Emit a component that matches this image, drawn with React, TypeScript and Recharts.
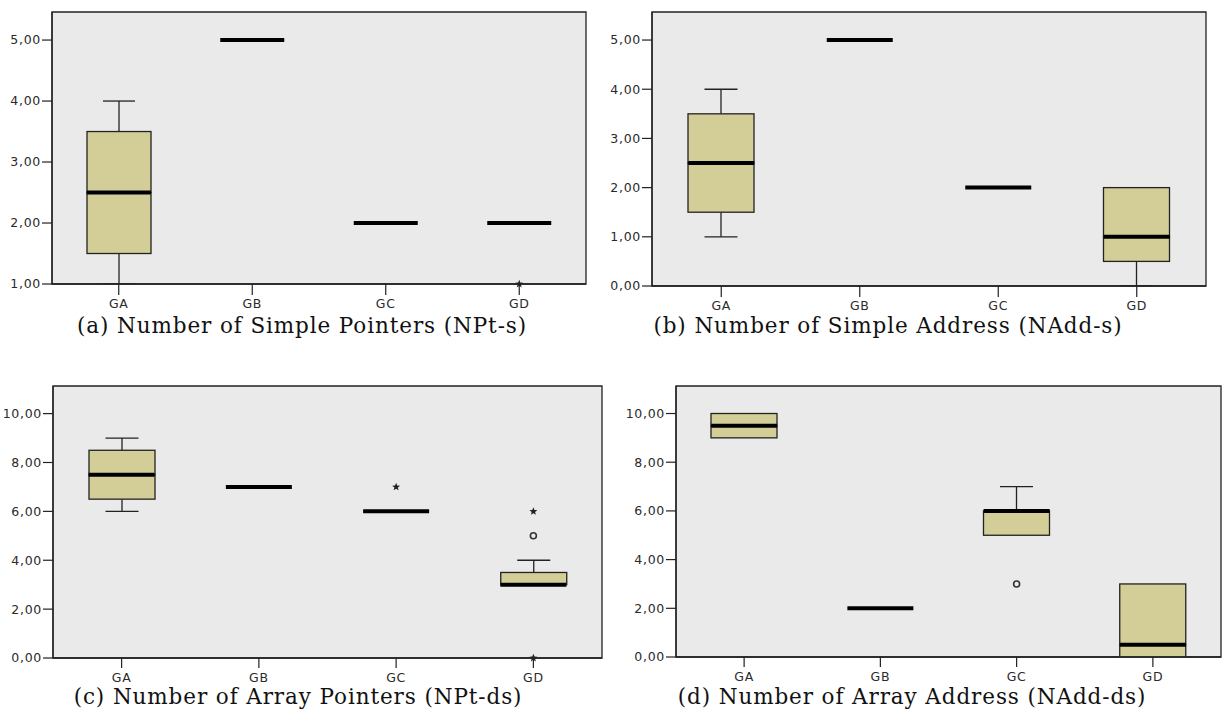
import { Bar, CartesianGrid, ComposedChart, ReferenceArea, Scatter, XAxis, YAxis } from "recharts";

const groups = ["GA", "GB", "GC", "GD"];

// [min, q1, median, q3, max] per group
const nptS = [
  [1, 1.5, 2.5, 3.5, 4],
  [5, 5, 5, 5, 5],
  [2, 2, 2, 2, 2],
  [2, 2, 2, 2, 2],
];
const nptSCircles = [null, null, null, null];
const nptSStars = [[], [], [], [1]];

const naddS = [
  [1, 1.5, 2.5, 3.5, 4],
  [5, 5, 5, 5, 5],
  [2, 2, 2, 2, 2],
  [0, 0.5, 1, 2, 2],
];
const naddSCircles = [null, null, null, null];
const naddSStars = [[], [], [], []];

const nptDs = [
  [6, 6.5, 7.5, 8.5, 9],
  [7, 7, 7, 7, 7],
  [6, 6, 6, 6, 6],
  [3, 3, 3, 3.5, 4],
];
const nptDsCircles = [null, null, null, 5];
const nptDsStars = [[], [], [7], [6, 0]];

const naddDs = [
  [9, 9, 9.5, 10, 10],
  [2, 2, 2, 2, 2],
  [5, 5, 6, 6, 7],
  [0, 0, 0.5, 3, 3],
];
const naddDsCircles = [null, null, 3, null];
const naddDsStars = [[], [], [], []];

const ticksOneToFive = [1, 2, 3, 4, 5];
const ticksZeroToFive = [0, 1, 2, 3, 4, 5];
const ticksZeroToTen = [0, 2, 4, 6, 8, 10];

const captions = [
  "(a) Number of Simple Pointers (NPt-s)",
  "(b) Number of Simple Address (NAdd-s)",
  "(c) Number of Array Pointers (NPt-ds)",
  "(d) Number of Array Address (NAdd-ds)",
];

const INK = "#222";
const TAN = "#D3CE98";
const PLOT_BG = "#EAEAEA";

function buildRows(summary: number[][], circles: (number | null)[], stars: number[][]) {
  return groups.map((group, i) => {
    const [min, q1, median, q3, max] = summary[i];
    return {
      group,
      base: min,
      lowWhisker: q1 - min,
      lowBox: median - q1,
      highBox: q3 - median,
      highWhisker: max - q3,
      median,
      circle: circles[i] ?? undefined,
      star1: stars[i][0],
      star2: stars[i][1],
    };
  });
}

const fmt = (v: number) => v.toFixed(2).replace(".", ",");

const whiskerShape = (capAtTop: boolean) => (props: any) => {
  const { x, y, width, height } = props;
  if (!height || Math.abs(height) < 0.5) return <g />;
  const cx = x + width / 2;
  const capY = capAtTop ? y : y + height;
  return (
    <g>
      <line x1={cx} x2={cx} y1={y} y2={y + height} stroke={INK} strokeWidth={1.3} />
      <line x1={cx - width / 4} x2={cx + width / 4} y1={capY} y2={capY} stroke={INK} strokeWidth={1.3} />
    </g>
  );
};

const boxShape = (props: any) => {
  const { x, y, width, height } = props;
  if (!height || Math.abs(height) < 0.5) return <g />;
  return <rect x={x} y={y} width={width} height={height} fill={TAN} stroke={INK} strokeWidth={1.3} />;
};

const medianShape = (boxWidth: number) => (props: any) => {
  const { cx, cy } = props;
  if (cy == null || !Number.isFinite(cy)) return <g />;
  return <line x1={cx - boxWidth / 2} x2={cx + boxWidth / 2} y1={cy} y2={cy} stroke="#000" strokeWidth={4} />;
};

const circleShape = (props: any) => {
  const { cx, cy, payload } = props;
  if (payload.circle == null || cy == null || !Number.isFinite(cy)) return <g />;
  return <circle cx={cx} cy={cy} r={3} fill="none" stroke="#333" strokeWidth={1.6} />;
};

const starShape = (key: string) => (props: any) => {
  const { cx, cy, payload } = props;
  if (payload[key] == null || cy == null || !Number.isFinite(cy)) return <g />;
  const pts: string[] = [];
  for (let k = 0; k < 10; k++) {
    const r = k % 2 === 0 ? 4.2 : 1.8;
    const a = -Math.PI / 2 + (k * Math.PI) / 5;
    pts.push(`${cx + r * Math.cos(a)},${cy + r * Math.sin(a)}`);
  }
  return <polygon points={pts.join(" ")} fill="#222" />;
};

type PanelProps = {
  rows: ReturnType<typeof buildRows>;
  domain: [number, number];
  ticks: number[];
  left: number;
  top: number;
  width: number;
  height: number;
  marginTop: number;
  marginRight: number;
  yAxisWidth: number;
  xAxisHeight: number;
  xTickSize: number;
  xTickMargin: number;
  boxWidth: number;
};

const tickStyle = { fontFamily: "DejaVu Sans", fontSize: 12.5, fill: "#2a2a2a", letterSpacing: 0.7 };

function BoxPanel(p: PanelProps) {
  return (
    <div style={{ position: "absolute", left: p.left, top: p.top }}>
      <ComposedChart
        width={p.width}
        height={p.height}
        data={p.rows}
        margin={{ top: p.marginTop, right: p.marginRight, bottom: 0, left: 0 }}
      >
        <CartesianGrid horizontal={false} vertical={false} fill={PLOT_BG} />
        <XAxis
          dataKey="group"
          type="category"
          allowDuplicatedCategory={false}
          height={p.xAxisHeight}
          tickSize={p.xTickSize}
          tickMargin={p.xTickMargin}
          tick={tickStyle}
          axisLine={{ stroke: INK, strokeWidth: 1.3 }}
          tickLine={{ stroke: INK, strokeWidth: 1.2 }}
        />
        <YAxis
          domain={p.domain}
          ticks={p.ticks}
          allowDataOverflow
          width={p.yAxisWidth}
          tickSize={10}
          tickMargin={1}
          tickFormatter={fmt}
          tick={tickStyle}
          axisLine={{ stroke: INK, strokeWidth: 1.3 }}
          tickLine={{ stroke: INK, strokeWidth: 1.2 }}
        />
        <YAxis yAxisId="pts" hide domain={p.domain} />
        <ReferenceArea
          x1={groups[0]}
          x2={groups[groups.length - 1]}
          y1={p.domain[0]}
          y2={p.domain[1]}
          fill="none"
          fillOpacity={0}
          stroke={INK}
          strokeWidth={1.3}
          strokeOpacity={1}
          ifOverflow="visible"
        />
        <Bar dataKey="base" stackId="b" barSize={p.boxWidth} fill="transparent" shape={() => <g />} isAnimationActive={false} />
        <Bar dataKey="lowWhisker" stackId="b" barSize={p.boxWidth} shape={whiskerShape(false)} isAnimationActive={false} />
        <Bar dataKey="lowBox" stackId="b" barSize={p.boxWidth} shape={boxShape} isAnimationActive={false} />
        <Bar dataKey="highBox" stackId="b" barSize={p.boxWidth} shape={boxShape} isAnimationActive={false} />
        <Bar dataKey="highWhisker" stackId="b" barSize={p.boxWidth} shape={whiskerShape(true)} isAnimationActive={false} />
        <Scatter yAxisId="pts" dataKey="median" shape={medianShape(p.boxWidth)} isAnimationActive={false} />
        <Scatter yAxisId="pts" dataKey="circle" shape={circleShape} isAnimationActive={false} />
        <Scatter yAxisId="pts" dataKey="star1" shape={starShape("star1")} isAnimationActive={false} />
        <Scatter yAxisId="pts" dataKey="star2" shape={starShape("star2")} isAnimationActive={false} />
      </ComposedChart>
    </div>
  );
}

const captionStyle = (cx: number, top: number): React.CSSProperties => ({
  position: "absolute",
  left: cx - 300,
  width: 600,
  top,
  textAlign: "center",
  fontFamily: "DejaVu Serif",
  fontSize: 21.5,
  letterSpacing: 0.9,
  color: "#111",
  whiteSpace: "nowrap",
});

export default function App() {
  return (
    <div style={{ position: "absolute", left: 0, top: 0, width: 1223, height: 727, background: "#fff", overflow: "hidden" }}>
      <BoxPanel rows={buildRows(nptS, nptSCircles, nptSStars)} domain={[1, 5.46]} ticks={ticksOneToFive}
        left={0} top={0} width={600} height={320} marginTop={12} marginRight={14}
        yAxisWidth={52} xAxisHeight={36} xTickSize={11} xTickMargin={4} boxWidth={64} />
      <BoxPanel rows={buildRows(naddS, naddSCircles, naddSStars)} domain={[0, 5.57]} ticks={ticksZeroToFive}
        left={600} top={0} width={620} height={320} marginTop={12} marginRight={14}
        yAxisWidth={52} xAxisHeight={34} xTickSize={11} xTickMargin={4} boxWidth={66} />
      <BoxPanel rows={buildRows(nptDs, nptDsCircles, nptDsStars)} domain={[0, 11.13]} ticks={ticksZeroToTen}
        left={0} top={360} width={620} height={330} marginTop={26} marginRight={18}
        yAxisWidth={53} xAxisHeight={32} xTickSize={10} xTickMargin={5} boxWidth={66} />
      <BoxPanel rows={buildRows(naddDs, naddDsCircles, naddDsStars)} domain={[0, 11.13]} ticks={ticksZeroToTen}
        left={620} top={360} width={603} height={330} marginTop={26} marginRight={2}
        yAxisWidth={56} xAxisHeight={33} xTickSize={10} xTickMargin={5} boxWidth={66} />
      <div style={captionStyle(302, 313)}>{captions[0]}</div>
      <div style={captionStyle(888, 313)}>{captions[1]}</div>
      <div style={captionStyle(298, 684)}>{captions[2]}</div>
      <div style={captionStyle(912, 684)}>{captions[3]}</div>
    </div>
  );
}
